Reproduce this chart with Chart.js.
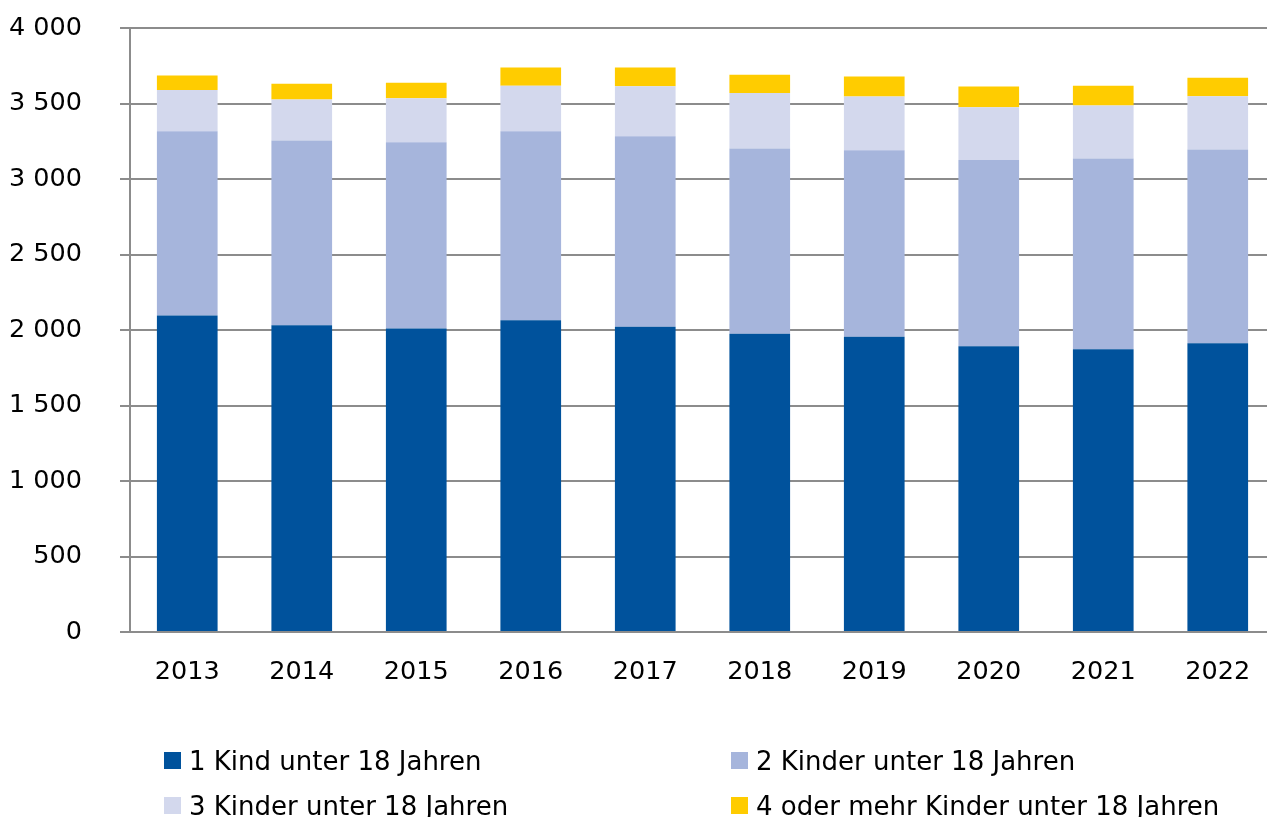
<!DOCTYPE html>
<html lang="de">
<head>
<meta charset="utf-8">
<title>Familien nach Zahl der Kinder</title>
<script src="https://cdn.jsdelivr.net/npm/chart.js@4/dist/chart.umd.min.js"></script>
<style>
    html, body { margin: 0; padding: 0; background: #fff; overflow: hidden; }
    #wrap { position: relative; width: 1267px; height: 817px; overflow: hidden; }
    #chart { position: absolute; left: 0; top: -25px; }
    .legend-item { position: absolute; height: 34px; font: 26px "DejaVu Sans", sans-serif; line-height: 34px; color: #000; white-space: nowrap; }
    .legend-box { position: absolute; width: 17px; height: 17px; }
</style>
</head>
<body>
<div id="wrap">
    <canvas id="chart" width="1276" height="842"></canvas>
    <div id="legend"></div>
</div>
<script>
const years = ["2013", "2014", "2015", "2016", "2017", "2018", "2019", "2020", "2021", "2022"];
const oneChild = [2097, 2033, 2011, 2066, 2022, 1976, 1956, 1893, 1874, 1913];
const twoChildren = [1221, 1223, 1234, 1252, 1263, 1227, 1236, 1235, 1263, 1284];
const threeChildren = [274, 272, 291, 302, 331, 369, 356, 349, 351, 353];
const fourPlusChildren = [95, 105, 104, 120, 124, 121, 132, 137, 131, 123];
const yTicks = [0, 500, 1000, 1500, 2000, 2500, 3000, 3500, 4000];

const seriesLabels = [
    "1 Kind unter 18 Jahren",
    "2 Kinder unter 18 Jahren",
    "3 Kinder unter 18 Jahren",
    "4 oder mehr Kinder unter 18 Jahren",
];
const colors = ["#00529c", "#a6b5dc", "#d3d8ed", "#ffcc00"];
const gridColor = "#8c8c8c";
const fontFamily = "'DejaVu Sans', sans-serif";

function formatThousands(value) {
    return String(value).replace(/\B(?=(\d{3})+(?!\d))/g, " ");
}

const seriesValues = [oneChild, twoChildren, threeChildren, fourPlusChildren];

const chart = new Chart(document.getElementById("chart"), {
    type: "bar",
    data: {
        labels: years,
        datasets: seriesValues.map((values, index) => ({
            label: seriesLabels[index],
            data: values,
            backgroundColor: colors[index],
            borderWidth: 0,
            barPercentage: 0.53,
            categoryPercentage: 1,
        })),
    },
    options: {
        responsive: false,
        animation: false,
        devicePixelRatio: 1,
        layout: { padding: { left: 0, right: 1, top: 2, bottom: 125 } },
        plugins: {
            legend: { display: false },
            tooltip: { enabled: false },
        },
        scales: {
            x: {
                stacked: true,
                grid: { display: false, drawTicks: false, tickLength: 0 },
                border: { display: true, color: gridColor, width: 2 },
                ticks: {
                    color: "#000",
                    padding: 25,
                    maxRotation: 0,
                    font: { family: fontFamily, size: 25.5 },
                },
                afterFit: (scale) => { scale.height = 60; },
            },
            y: {
                stacked: true,
                min: 0,
                max: 4000,
                afterBuildTicks: (scale) => { scale.ticks = yTicks.map((value) => ({ value })); },
                grid: { color: gridColor, lineWidth: 2, drawTicks: true, tickLength: 10 },
                border: { display: true, color: gridColor, width: 2 },
                ticks: {
                    color: "#000",
                    padding: 38,
                    font: { family: fontFamily, size: 25.5 },
                    callback: (value) => formatThousands(value),
                },
                afterFit: (scale) => { scale.width = 130; },
            },
        },
    },
});

// legend in two columns, like the original
const legendSpots = [
    { left: 164, top: 752 },
    { left: 731, top: 752 },
    { left: 164, top: 797 },
    { left: 731, top: 797 },
];
const legend = document.getElementById("legend");
chart.data.datasets.forEach((dataset, index) => {
    const spot = legendSpots[index];
    const box = document.createElement("div");
    box.className = "legend-box";
    box.style.left = spot.left + "px";
    box.style.top = spot.top + "px";
    box.style.background = dataset.backgroundColor;
    legend.appendChild(box);
    const text = document.createElement("div");
    text.className = "legend-item";
    text.style.left = (spot.left + 25) + "px";
    text.style.top = (spot.top - 8) + "px";
    text.textContent = dataset.label;
    legend.appendChild(text);
});
</script>
</body>
</html>
